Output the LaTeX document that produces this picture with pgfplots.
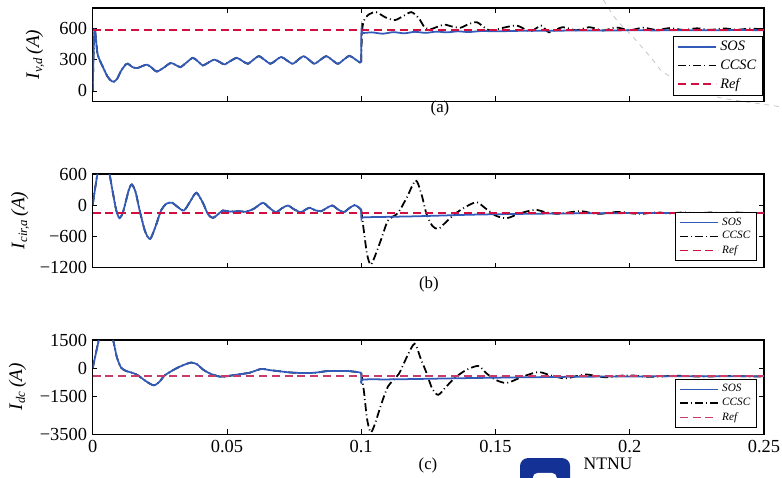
\documentclass[border=0pt]{standalone}
\usepackage{fontspec}
\setmainfont{Liberation Serif}
\usepackage{pgfplots}
\pgfplotsset{compat=1.18}

\definecolor{sosblue}{RGB}{50,90,185}
\definecolor{refred}{RGB}{210,15,65}
\definecolor{refpink}{RGB}{200,60,105}
\definecolor{logoblue}{RGB}{20,50,150}

\pgfplotsset{
  panel/.style={
    scale only axis, width=419.6pt, height=58.3pt, anchor=south west,
    xmin=0, xmax=0.25,
    xtick={0,0.05,0.1,0.15,0.2,0.25},
    xticklabels={},
    tick align=inside,
    major tick length=3pt,
    tick style={black, line width=0.5pt},
    axis line style={line width=0.8pt},
    tick label style={font=\fontsize{11.5}{13}\selectfont},
    ylabel style={font=\fontsize{12}{14}\selectfont, anchor=center},
    legend cell align=left,
    legend style={draw=black, line width=0.8pt, fill=white, anchor=south east,
      inner xsep=2pt, inner ysep=1pt},
    legend image code/.code={\draw[##1] (0pt,0pt) -- (24pt,0pt);},
  },
  stySOS/.style={color=sosblue, line width=1.1pt, smooth, tension=0.45},
  styCCSC/.style={color=black, line width=1.1pt, dash pattern=on 5pt off 2pt on 0.6pt off 2pt, smooth, tension=0.45},
  styRefA/.style={color=refred, line width=1.0pt, dash pattern=on 5pt off 3pt},
  styRefC/.style={color=refpink, line width=1.0pt, dash pattern=on 5pt off 3pt},
}

\begin{document}
\begin{tikzpicture}

%% screenshot artefact: grey dashed arc over panel (a)
\draw[gray!45, dashed, line width=0.5pt] plot[smooth] coordinates
  {(377.1pt,0pt) (385.4pt,-12.5pt) (395.6pt,-23.1pt) (408.1pt,-37.5pt) (414.4pt,-45pt)
   (431.3pt,-54.4pt) (448.1pt,-60.6pt) (466.9pt,-63.75pt) (489.4pt,-66.9pt)};

%% (a) I_v,d
\begin{axis}[panel, at={(57.9pt,-63.3pt)},
  ymin=-100, ymax=800,
  ytick={0,300,600}, yticklabels={0,300,600},
  ylabel={\textit{I}\textsubscript{\textit{v,d}}\,\textit{(A)}},
  ylabel style={at={(axis description cs:-0.086,0.5)}},
  legend style={at={(0.999,0.057)}, font=\small\itshape},
]
\addlegendimage{stySOS}
\addlegendimage{styCCSC}
\addlegendimage{styRefA}
\legend{SOS,CCSC,Ref}

%% CCSC (drawn under SOS)
\addplot[styCCSC, forget plot] coordinates {
(0,0) (0.0003,300) (0.0006,560) (0.0009,585) (0.0013,480) (0.0018,360) (0.0026,300)
(0.0040,220) (0.0055,140) (0.0068,100) (0.0079,89) (0.0092,120) (0.0105,190) (0.0120,245)
(0.0131,263) (0.0148,230) (0.0166,220) (0.0185,240) (0.0203,253) (0.0220,225) (0.0239,187)
(0.0265,225) (0.0290,269) (0.0308,252) (0.0327,230) (0.0350,275) (0.0373,319) (0.0392,285)
(0.0410,246) (0.0432,275) (0.0453,302) (0.0472,280) (0.0491,256) (0.0514,290) (0.0537,319)
(0.0557,290) (0.0578,262) (0.0598,300) (0.0619,335) (0.0640,300) (0.0662,262) (0.0682,295)
(0.0702,328) (0.0723,295) (0.0745,262) (0.0765,300) (0.0786,335) (0.0806,300) (0.0826,262)
(0.0848,300) (0.0870,335) (0.0891,300) (0.0913,262) (0.0934,300) (0.0956,338) (0.0975,310)
(0.0995,275) (0.1000,280)};
\addplot[styCCSC, forget plot] coordinates {
(0.1000,280) (0.1003,560) (0.1010,680) (0.1030,740) (0.1056,760) (0.1090,710) (0.1125,683)
(0.1155,720) (0.1187,760) (0.1215,700) (0.1237,610) (0.1260,597) (0.1290,625) (0.1311,640)
(0.1340,620) (0.1370,610) (0.1400,645) (0.1430,663) (0.1455,620) (0.1480,580) (0.1530,610)
(0.1580,630) (0.1630,575) (0.1670,630) (0.1700,565) (0.1750,615) (0.1800,585) (0.1850,615)
(0.1900,583) (0.1950,612) (0.2000,586) (0.2050,610) (0.2100,588) (0.2150,606) (0.2200,588)
(0.2250,604) (0.2300,589) (0.2350,603) (0.2400,590) (0.2450,602) (0.2500,592)};

%% SOS
\addplot[stySOS, forget plot] coordinates {
(0,0) (0.0003,300) (0.0006,560) (0.0009,585) (0.0013,480) (0.0018,360) (0.0026,300)
(0.0040,220) (0.0055,140) (0.0068,100) (0.0079,89) (0.0092,120) (0.0105,190) (0.0120,245)
(0.0131,263) (0.0148,230) (0.0166,220) (0.0185,240) (0.0203,253) (0.0220,225) (0.0239,187)
(0.0265,225) (0.0290,269) (0.0308,252) (0.0327,230) (0.0350,275) (0.0373,319) (0.0392,285)
(0.0410,246) (0.0432,275) (0.0453,302) (0.0472,280) (0.0491,256) (0.0514,290) (0.0537,319)
(0.0557,290) (0.0578,262) (0.0598,300) (0.0619,335) (0.0640,300) (0.0662,262) (0.0682,295)
(0.0702,328) (0.0723,295) (0.0745,262) (0.0765,300) (0.0786,335) (0.0806,300) (0.0826,262)
(0.0848,300) (0.0870,335) (0.0891,300) (0.0913,262) (0.0934,300) (0.0956,338) (0.0975,310)
(0.0995,275) (0.1000,280)};
\addplot[stySOS, forget plot] coordinates {
(0.1000,280) (0.1001,590) (0.1006,560) (0.1040,565) (0.1080,552) (0.1120,567) (0.1160,556)
(0.1200,570) (0.1240,560) (0.1280,572) (0.1320,565) (0.1360,575) (0.1400,568) (0.1450,578)
(0.1500,575) (0.1600,580) (0.1700,580) (0.1800,583) (0.1900,582) (0.2000,585) (0.2100,584)
(0.2200,586) (0.2300,585) (0.2400,587) (0.2500,586)};

%% Ref
\addplot[styRefA, forget plot] coordinates {(0,590) (0.25,590)};
\end{axis}
\node[font=\fontsize{10.5}{12}\selectfont] at (275pt,-67.5pt) {(a)};

%% (b) I_cir,a
\begin{axis}[panel, at={(57.9pt,-167.1pt)},
  ymin=-1200, ymax=600,
  ytick={-1200,-600,0,600}, yticklabels={−1200,−600,0,600},
  ylabel={\textit{I}\textsubscript{\textit{cir,a}}\,\textit{(A)}},
  ylabel style={at={(axis description cs:-0.108,0.5)}},
  legend style={at={(0.99,0.068)}, font=\scriptsize\itshape, row sep=-1.5pt},
]
\addlegendimage{stySOS}
\addlegendimage{styCCSC}
\addlegendimage{styRefA}
\legend{SOS,CCSC,Ref}

\addplot[styCCSC, forget plot] coordinates {
(0,0) (0.0010,350) (0.0020,650) (0.0040,1000) (0.0055,800) (0.0063,600) (0.0075,250)
(0.0088,-100) (0.0100,-251) (0.0112,-150) (0.0125,100) (0.0135,300) (0.0146,400) (0.0160,250)
(0.0175,-100) (0.0195,-500) (0.0214,-651) (0.0235,-400) (0.0255,-100) (0.0275,30) (0.0296,46)
(0.0318,-40) (0.0340,-103) (0.0362,60) (0.0386,239) (0.0410,50) (0.0430,-180) (0.0448,-245)
(0.0466,-180) (0.0485,-103) (0.0510,-125) (0.0540,-115) (0.0570,-125) (0.0600,-70) (0.0634,46)
(0.0660,-60) (0.0683,-135) (0.0705,-60) (0.0727,-6) (0.0750,-80) (0.0774,-135) (0.0790,-95)
(0.0807,-51) (0.0830,-100) (0.0851,-116) (0.0870,-60) (0.0892,-6) (0.0913,-80) (0.0935,-135)
(0.0955,-60) (0.0975,0) (0.0990,-40) (0.1000,-90)};
\addplot[styCCSC, forget plot] coordinates {
(0.1000,-90) (0.1010,-500) (0.1022,-950) (0.1035,-1150) (0.1050,-1000) (0.1075,-650)
(0.1100,-296) (0.1137,-150) (0.1170,150) (0.1203,478) (0.1225,200) (0.1243,-167) (0.1265,-400)
(0.1287,-457) (0.1315,-330) (0.1349,-167) (0.1390,-30) (0.1430,58) (0.1460,-50) (0.1500,-200)
(0.1542,-251) (0.1590,-160) (0.1647,-90) (0.1690,-140) (0.1734,-167) (0.1780,-135) (0.1820,-116)
(0.1855,-150) (0.1890,-167) (0.1930,-140) (0.1970,-130) (0.2010,-160) (0.2050,-165) (0.2100,-138)
(0.2150,-160) (0.2200,-140) (0.2250,-158) (0.2300,-142) (0.2350,-157) (0.2400,-143) (0.2450,-156)
(0.2500,-145)};

\addplot[stySOS, forget plot] coordinates {
(0,0) (0.0010,350) (0.0020,650) (0.0040,1000) (0.0055,800) (0.0063,600) (0.0075,250)
(0.0088,-100) (0.0100,-251) (0.0112,-150) (0.0125,100) (0.0135,300) (0.0146,400) (0.0160,250)
(0.0175,-100) (0.0195,-500) (0.0214,-651) (0.0235,-400) (0.0255,-100) (0.0275,30) (0.0296,46)
(0.0318,-40) (0.0340,-103) (0.0362,60) (0.0386,239) (0.0410,50) (0.0430,-180) (0.0448,-245)
(0.0466,-180) (0.0485,-103) (0.0510,-125) (0.0540,-115) (0.0570,-125) (0.0600,-70) (0.0634,46)
(0.0660,-60) (0.0683,-135) (0.0705,-60) (0.0727,-6) (0.0750,-80) (0.0774,-135) (0.0790,-95)
(0.0807,-51) (0.0830,-100) (0.0851,-116) (0.0870,-60) (0.0892,-6) (0.0913,-80) (0.0935,-135)
(0.0955,-60) (0.0975,0) (0.0990,-40) (0.1000,-90)};
\addplot[stySOS, forget plot] coordinates {
(0.1000,-90) (0.1001,-260) (0.1010,-235) (0.1100,-225) (0.1200,-215) (0.1300,-200) (0.1400,-185)
(0.1500,-175) (0.1600,-168) (0.1700,-162) (0.1800,-158) (0.1900,-155) (0.2000,-153) (0.2250,-151)
(0.2500,-150)};

\addplot[styRefA, forget plot] coordinates {(0,-150) (0.25,-150)};
\end{axis}
\node[font=\fontsize{10.5}{12}\selectfont] at (268pt,-178pt) {(b)};

%% (c) I_dc
\begin{axis}[panel, at={(57.9pt,-271.4pt)},
  height=58.9pt,
  ymin=-3500, ymax=1500,
  ytick={-3500,-1500,0,1500}, yticklabels={−3500,−1500,0,1500},
  xticklabels={0,0.05,0.1,0.15,0.2,0.25},
  ylabel={\textit{I}\textsubscript{\textit{dc}}\,\textit{(A)}},
  ylabel style={at={(axis description cs:-0.112,0.5)}},
  legend style={at={(0.99,0.067)}, font=\scriptsize\itshape, row sep=-1.5pt},
]
\addlegendimage{stySOS}
\addlegendimage{styCCSC}
\addlegendimage{styRefC}
\legend{SOS,CCSC,Ref}

\addplot[styCCSC, forget plot] coordinates {
(0,0) (0.0010,650) (0.0023,1500) (0.0040,2300) (0.0060,2000) (0.0076,1500) (0.0090,600)
(0.0106,33) (0.0125,-146) (0.0150,-250) (0.0169,-379) (0.0200,-700) (0.0228,-905) (0.0250,-700)
(0.0268,-379) (0.0305,-56) (0.0335,150) (0.0367,304) (0.0390,200) (0.0410,-56) (0.0440,-300)
(0.0479,-455) (0.0510,-400) (0.0541,-329) (0.0584,-238) (0.0627,-38) (0.0660,-100) (0.0689,-146)
(0.0720,-200) (0.0751,-238) (0.0790,-250) (0.0826,-238) (0.0876,-146) (0.0920,-140) (0.0950,-146)
(0.0985,-200) (0.1000,-238)};
\addplot[styCCSC, forget plot] coordinates {
(0.1000,-238) (0.1010,-1200) (0.1022,-2700) (0.1035,-3400) (0.1050,-3000) (0.1075,-1900)
(0.1100,-959) (0.1140,-300) (0.1170,600) (0.1199,1300) (0.1222,500) (0.1243,-238) (0.1265,-1100)
(0.1287,-1409) (0.1315,-1000) (0.1349,-508) (0.1390,-100) (0.1436,125) (0.1465,-250) (0.1498,-596)
(0.1542,-780) (0.1600,-450) (0.1660,-200) (0.1710,-400) (0.1760,-540) (0.1800,-420) (0.1840,-330)
(0.1880,-430) (0.1920,-480) (0.1970,-390) (0.2010,-380) (0.2060,-450) (0.2110,-440) (0.2160,-400)
(0.2210,-410) (0.2260,-440) (0.2310,-430) (0.2360,-405) (0.2410,-415) (0.2460,-435) (0.2500,-425)};

\addplot[stySOS, forget plot] coordinates {
(0,0) (0.0010,650) (0.0023,1500) (0.0040,2300) (0.0060,2000) (0.0076,1500) (0.0090,600)
(0.0106,33) (0.0125,-146) (0.0150,-250) (0.0169,-379) (0.0200,-700) (0.0228,-905) (0.0250,-700)
(0.0268,-379) (0.0305,-56) (0.0335,150) (0.0367,304) (0.0390,200) (0.0410,-56) (0.0440,-300)
(0.0479,-455) (0.0510,-400) (0.0541,-329) (0.0584,-238) (0.0627,-38) (0.0660,-100) (0.0689,-146)
(0.0720,-200) (0.0751,-238) (0.0790,-250) (0.0826,-238) (0.0876,-146) (0.0920,-140) (0.0950,-146)
(0.0985,-200) (0.1000,-238)};
\addplot[stySOS, forget plot] coordinates {
(0.1000,-238) (0.1001,-780) (0.1006,-600) (0.1100,-590) (0.1200,-570) (0.1300,-545) (0.1400,-520)
(0.1500,-500) (0.1600,-480) (0.1700,-465) (0.1800,-450) (0.1900,-440) (0.2000,-432) (0.2250,-425)
(0.2500,-420)};

\addplot[styRefC, forget plot] coordinates {(0,-420) (0.25,-420)};
\end{axis}
\node[font=\fontsize{10.5}{12}\selectfont] at (267.5pt,-290.6pt) {(c)};

%% NTNU watermark
\fill[logoblue, rounded corners=5pt] (325pt,-286.3pt) rectangle (356.3pt,-315pt);
\fill[white, rounded corners=3pt] (333pt,-295.6pt) rectangle (348pt,-315pt);
\node[font=\fontsize{11}{13}\selectfont] at (380pt,-290pt) {NTNU};

\pgfresetboundingbox
\path (0pt,0pt) rectangle (488.75pt,-298.75pt);
\end{tikzpicture}
\end{document}
